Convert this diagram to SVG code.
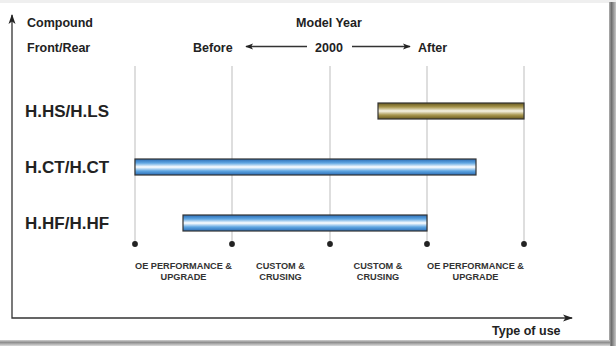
<svg xmlns="http://www.w3.org/2000/svg" width="616" height="346" viewBox="0 0 616 346">
<defs>
<style>
text{font-family:"Liberation Sans",Arial,sans-serif;font-weight:bold;fill:#222}
.hdr{font-size:12.5px}
.row{font-size:17px}
.use{font-size:9.2px;text-anchor:middle;fill:#333}
.grid{stroke:#bdbdbd;stroke-width:1}
.axis{stroke:#333;stroke-width:1.3;fill:none}
.bar{stroke:#333;stroke-width:1.2}
.dot{fill:#222}
</style>
<linearGradient id="gBlue" x1="0" y1="0" x2="0" y2="1">
<stop offset="0" stop-color="#2a6cb5"/>
<stop offset="0.25" stop-color="#5fa6e2"/>
<stop offset="0.5" stop-color="#ffffff"/>
<stop offset="0.75" stop-color="#5fa6e2"/>
<stop offset="1" stop-color="#2a6cb5"/>
</linearGradient>
<linearGradient id="gGold" x1="0" y1="0" x2="0" y2="1">
<stop offset="0" stop-color="#66571c"/>
<stop offset="0.25" stop-color="#a8974f"/>
<stop offset="0.5" stop-color="#f7f4e6"/>
<stop offset="0.75" stop-color="#a8974f"/>
<stop offset="1" stop-color="#66571c"/>
</linearGradient>
<linearGradient id="gRight" x1="0" y1="0" x2="1" y2="0">
<stop offset="0" stop-color="#b0b0b0"/>
<stop offset="0.35" stop-color="#6e6e6e"/>
<stop offset="1" stop-color="#c8c8c8"/>
</linearGradient>
<linearGradient id="gBottom" x1="0" y1="0" x2="0" y2="1">
<stop offset="0" stop-color="#d0d0d0"/>
<stop offset="0.4" stop-color="#8e8e8e"/>
<stop offset="1" stop-color="#dcdcdc"/>
</linearGradient>
<marker id="ah" viewBox="0 0 10 10" refX="9" refY="5" markerWidth="8" markerHeight="8" markerUnits="userSpaceOnUse" orient="auto-start-reverse">
<path d="M0,1 L10,5 L0,9 L2.5,5 Z" fill="#222"/>
</marker>
<marker id="ahBig" viewBox="0 0 10 10" refX="9" refY="5" markerWidth="11" markerHeight="10" markerUnits="userSpaceOnUse" orient="auto-start-reverse">
<path d="M0,1.5 L10,5 L0,8.5 L2.5,5 Z" fill="#222"/>
</marker>
</defs>

<g id="frame">
<rect x="0" y="0" width="616" height="346" fill="#efefef"/>
<rect x="0" y="3" width="610" height="338" fill="#ffffff"/>
<rect x="609" y="2" width="7" height="344" fill="url(#gRight)"/>
<rect x="0" y="340" width="610" height="6" fill="url(#gBottom)"/>
</g>

<g id="grid">
<line class="grid" x1="135" y1="66" x2="135" y2="244"/>
<line class="grid" x1="232" y1="66" x2="232" y2="244"/>
<line class="grid" x1="330" y1="66" x2="330" y2="244"/>
<line class="grid" x1="427" y1="66" x2="427" y2="244"/>
<line class="grid" x1="524" y1="66" x2="524" y2="244"/>
</g>

<g id="connectors">
<path class="axis" d="M12,15 L12,318 L572,318" marker-start="url(#ahBig)" marker-end="url(#ahBig)"/>
<line class="axis" x1="307" y1="46.5" x2="246" y2="46.5" marker-end="url(#ah)"/>
<line class="axis" x1="352" y1="46.5" x2="410" y2="46.5" marker-end="url(#ah)"/>
</g>

<g id="headers">
<text class="hdr" x="27" y="27">Compound</text>
<text class="hdr" x="27" y="52">Front/Rear</text>
<text class="hdr" x="329" y="27" text-anchor="middle">Model Year</text>
<text class="hdr" x="193" y="52">Before</text>
<text class="hdr" x="329" y="52" text-anchor="middle">2000</text>
<text class="hdr" x="418" y="52">After</text>
</g>

<g id="node-hs">
<text class="row" x="25" y="117">H.HS/H.LS</text>
<rect class="bar" x="378" y="103" width="146" height="16" fill="url(#gGold)"/>
</g>
<g id="node-ct">
<text class="row" x="25" y="173">H.CT/H.CT</text>
<rect class="bar" x="135" y="159" width="341" height="16" fill="url(#gBlue)"/>
</g>
<g id="node-hf">
<text class="row" x="25" y="229">H.HF/H.HF</text>
<rect class="bar" x="183" y="215" width="244" height="16" fill="url(#gBlue)"/>
</g>

<g id="ticks">
<circle class="dot" cx="135" cy="244" r="2.9"/>
<circle class="dot" cx="232" cy="244" r="2.9"/>
<circle class="dot" cx="330" cy="244" r="2.9"/>
<circle class="dot" cx="427" cy="244" r="2.9"/>
<circle class="dot" cx="524" cy="244" r="2.9"/>
</g>

<g id="use-labels">
<text class="use" x="183.5" y="269">OE PERFORMANCE &amp;</text>
<text class="use" x="183.5" y="280">UPGRADE</text>
<text class="use" x="280.5" y="269">CUSTOM &amp;</text>
<text class="use" x="280.5" y="280">CRUSING</text>
<text class="use" x="378" y="269">CUSTOM &amp;</text>
<text class="use" x="378" y="280">CRUSING</text>
<text class="use" x="475.5" y="269">OE PERFORMANCE &amp;</text>
<text class="use" x="475.5" y="280">UPGRADE</text>
<text class="hdr" x="492" y="335">Type of use</text>
</g>
</svg>
